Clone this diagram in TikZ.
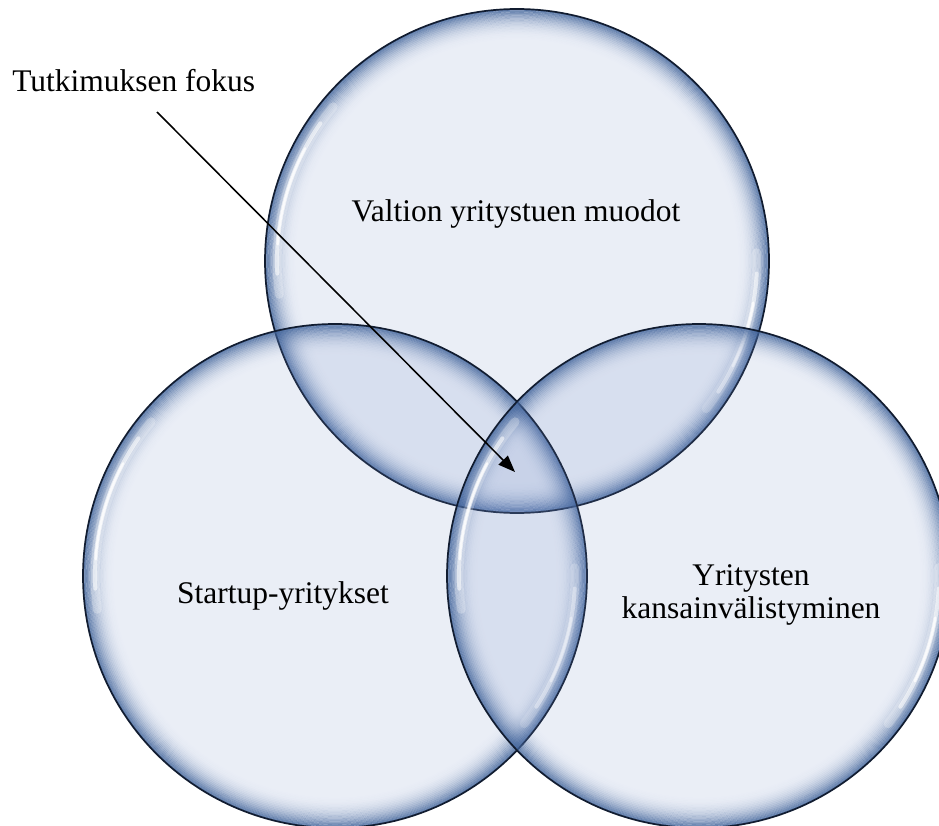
\documentclass[tikz,border=0pt]{standalone}
\usepackage{fontspec}
\setmainfont{Liberation Serif}
\usetikzlibrary{arrows.meta}
\definecolor{kupla}{HTML}{6F8AC4}
\definecolor{reuna}{HTML}{3F6299}
\definecolor{viiva}{HTML}{111C30}

\begin{document}
\begin{tikzpicture}[
	teksti/.style={font=\fontsize{22.4}{23.1}\selectfont, inner sep=0pt},
	nuoli/.style={line width=1.1pt, -{Triangle[length=0.42cm,width=0.32cm]}},
	kiilto/.style={white, line cap=round}
	]
	
	\clip (0,0) rectangle (23.475,20.625);
	\coordinate (valtio) at (12.925,14.1);
	\coordinate (startup) at (8.375,6.225);
	\coordinate (kv) at (17.475,6.225);
	
	\foreach \c in {valtio,startup,kv} {
		\fill[kupla, fill opacity=0.15] (\c) circle (6.3);
		\foreach \k [evaluate=\k as \op using {0.8*(1-\k/20)^2.5}] in {0,...,19}
			\draw[reuna, line width=0.042cm, draw opacity=\op] (\c) circle ({6.28-\k*0.04});
		\foreach \a/\b in {140/188,-38/2} {
			\draw[kiilto, line width=0.22cm, draw opacity=0.25] (\c) ++(\a:6.0) arc (\a:\b:6.0);
			\draw[kiilto, line width=0.1cm, draw opacity=0.55] (\c) ++({\a+5}:6.0) arc ({\a+5}:{\b-5}:6.0);
			\draw[kiilto, line width=0.06cm, draw opacity=0.8] (\c) ++({\a+12}:6.0) arc ({\a+12}:{\b-12}:6.0);
		}
		\draw[viiva, line width=1.2pt] (\c) circle (6.3);
	}
	
	\node[teksti, anchor=base west] (fokus) at (0.3,18.325) {Tutkimuksen fokus};
	\node[teksti, anchor=base] (valtioteksti) at (12.9,15.075) {Valtion yritystuen muodot};
	\node[teksti, anchor=base] (startupteksti) at (7.075,5.55) {Startup-yritykset};
	\node[teksti, align=center] (kvteksti) at (18.775,5.75) {Yritysten\\kansainvälistyminen};
	
	\coordinate (alku) at (3.925,17.825);
	\coordinate (kohde) at (12.875,8.825);
	\draw[nuoli] (alku) -- (kohde);
	
\end{tikzpicture}
\end{document}
